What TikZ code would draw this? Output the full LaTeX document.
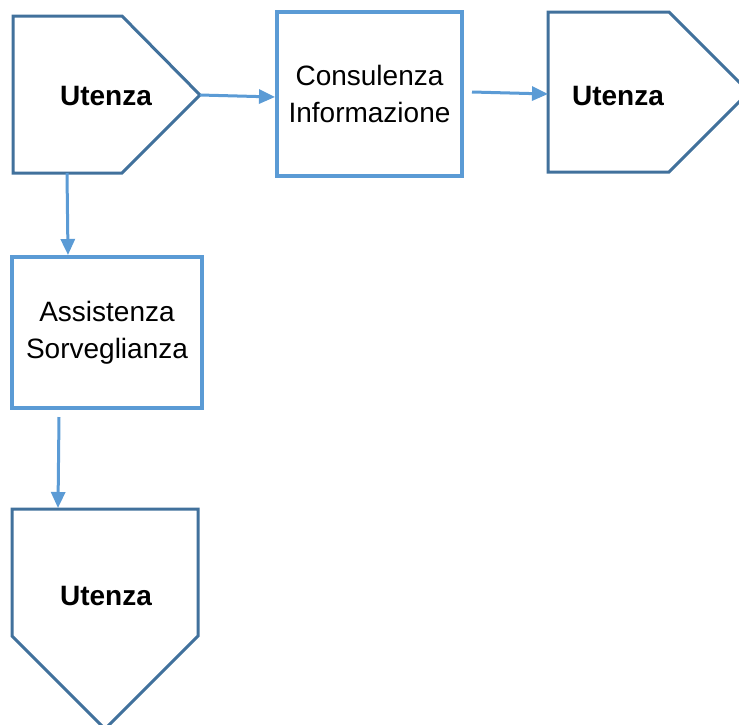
\documentclass[tikz,border=0pt]{standalone}
\usepackage{fontspec}
\setmainfont{Liberation Sans}
\usetikzlibrary{arrows.meta}
\definecolor{edgeblue}{HTML}{41719C}
\definecolor{boxblue}{HTML}{5B9BD5}
\tikzset{
  userpent/.style={draw=edgeblue, line width=3pt, line join=miter, fill=white},
  servicebox/.style={draw=boxblue, line width=4pt, fill=white, align=center,
    inner sep=0pt, font=\fontsize{28}{37}\selectfont},
  userlabel/.style={font=\fontsize{28}{34}\selectfont\bfseries, inner sep=0pt},
  flow/.style={draw=boxblue, line width=3pt, -{Triangle[length=16pt,width=14pt]}},
}
\begin{document}
\begin{tikzpicture}[x=1pt, y=-1pt]
\useasboundingbox (0,0) rectangle (739,724);

% user pentagons
\draw[userpent] (13,16) -- (122,16) -- (200,95) -- (122,173) -- (13,173) -- cycle;
\node[userlabel] (u1) at (106,96) {Utenza};
\coordinate (u1tip) at (200,95);
\coordinate (u1bot) at (67,173);

\draw[userpent] (548,12) -- (669,12) -- (749,92) -- (669,172) -- (548,172) -- cycle;
\node[userlabel] (u2) at (618,96) {Utenza};
\coordinate (u2in) at (548,94);

\draw[userpent] (12,509) -- (198,509) -- (198,636) -- (105,729) -- (12,636) -- cycle;
\node[userlabel] (u3) at (106,596) {Utenza};
\coordinate (u3in) at (58,508);

% service boxes
\node[servicebox, minimum width=185pt, minimum height=164pt] (cons) at (369.5,94)
  {Consulenza\\Informazione};
\node[servicebox, minimum width=190pt, minimum height=151pt] (assi) at (107,332.5)
  {Assistenza\\Sorveglianza};

\coordinate (consout) at (472,92);
\coordinate (assiout) at (59,417);

% flow arrows
\draw[flow] (u1tip) -- (cons.west |- 0,97);
\draw[flow] (consout) -- (u2in);
\draw[flow] (u1bot) -- (assi.north -| 68,0);
\draw[flow] (assiout) -- (u3in);
\end{tikzpicture}
\end{document}
